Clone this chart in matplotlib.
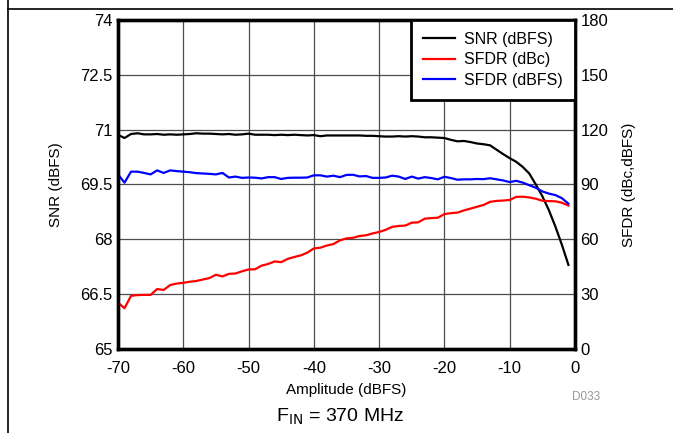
import numpy as np
import matplotlib.pyplot as plt

plt.rcParams['font.family'] = ['Liberation Sans', 'DejaVu Sans']
plt.rcParams['axes.unicode_minus'] = False

# amplitude in dBFS, 1 dB steps
amplitude = list(range(-70, 0))

# SNR (dBFS), left axis
snr = [70.86, 70.77, 70.88, 70.90, 70.87, 70.87, 70.88, 70.86, 70.87, 70.86,
       70.87, 70.88, 70.90, 70.89, 70.89, 70.88, 70.87, 70.88, 70.86, 70.87,
       70.89, 70.86, 70.86, 70.86, 70.85, 70.86, 70.85, 70.86, 70.85, 70.84,
       70.85, 70.82, 70.84, 70.84, 70.84, 70.84, 70.84, 70.84, 70.83, 70.83,
       70.82, 70.81, 70.81, 70.82, 70.81, 70.82, 70.81, 70.79, 70.79, 70.78,
       70.77, 70.72, 70.68, 70.69, 70.66, 70.62, 70.60, 70.57, 70.45, 70.33,
       70.22, 70.12, 69.98, 69.80, 69.50, 69.18, 68.80, 68.35, 67.85, 67.30]

# SFDR (dBc), right axis
sfdr_dbc = [25.4, 22.3, 29.1, 29.5, 29.6, 29.6, 32.8, 32.3, 35.0, 35.8,
            36.2, 36.8, 37.2, 38.0, 38.8, 40.6, 39.7, 41.1, 41.3, 42.5,
            43.5, 43.6, 45.6, 46.5, 47.9, 47.5, 49.3, 50.3, 51.2, 52.7,
            55.0, 55.4, 56.6, 57.4, 59.4, 60.5, 60.8, 61.8, 62.2, 63.2,
            64.0, 65.2, 66.8, 67.3, 67.5, 69.1, 69.3, 71.3, 71.6, 71.8,
            73.8, 74.3, 74.6, 75.8, 76.8, 77.8, 78.8, 80.5, 81.0, 81.2,
            81.5, 83.2, 83.3, 82.9, 82.2, 81.1, 80.9, 80.8, 80.0, 78.5]

# SFDR (dBFS), right axis
sfdr_dbfs = [95.5, 91.0, 97.0, 97.0, 96.3, 95.5, 97.7, 96.3, 97.7, 97.3,
             97.0, 96.7, 96.2, 96.0, 95.8, 95.5, 96.3, 93.8, 94.3, 93.6,
             93.8, 93.7, 93.3, 94.0, 94.0, 93.0, 93.6, 93.7, 93.7, 93.8,
             95.0, 95.0, 94.3, 94.8, 94.0, 95.2, 95.3, 94.4, 94.6, 93.6,
             93.6, 93.8, 94.8, 94.3, 93.0, 94.3, 93.2, 94.0, 93.5, 92.8,
             94.2, 93.5, 92.6, 92.8, 92.8, 93.0, 92.9, 93.4, 92.8, 92.2,
             91.3, 92.0, 91.0, 89.6, 88.2, 86.2, 85.0, 84.2, 82.5, 79.5]

fig = plt.figure(figsize=(6.73, 4.33), dpi=100)
ax1 = fig.add_axes([0.1753, 0.194, 0.679, 0.760])
ax2 = ax1.twinx()

l1, = ax1.plot(amplitude, snr, color='black', lw=1.6, label='SNR (dBFS)')
l2, = ax2.plot(amplitude, sfdr_dbc, color='red', lw=1.6, label='SFDR (dBc)')
l3, = ax2.plot(amplitude, sfdr_dbfs, color='blue', lw=1.6, label='SFDR (dBFS)')

ax1.set_xlim(-70, 0)
ax1.set_ylim(65, 74)
ax2.set_ylim(0, 180)
ax1.set_xticks(np.arange(-70, 1, 10))
ax1.set_yticks([65, 66.5, 68, 69.5, 71, 72.5, 74])
ax1.set_yticklabels(['65', '66.5', '68', '69.5', '71', '72.5', '74'])
ax2.set_yticks(np.arange(0, 181, 30))

ax1.grid(True, color='0.3', lw=0.9)
ax1.set_axisbelow(True)
for ax in (ax1, ax2):
    ax.tick_params(length=0, labelsize=12, pad=4)
    for s in ax.spines.values():
        s.set_linewidth(2.4)
ax1.tick_params(axis='x', pad=9)

ax1.set_xlabel('Amplitude (dBFS)', fontsize=11, labelpad=5)
ax1.set_ylabel('SNR (dBFS)', fontsize=11, labelpad=12)
ax2.set_ylabel('SFDR (dBc,dBFS)', fontsize=11, labelpad=10)

leg = ax2.legend(handles=[l1, l2, l3], loc='upper right', borderaxespad=0,
                 fontsize=11.5, fancybox=False, framealpha=1, edgecolor='black',
                 handlelength=2.0, handletextpad=0.6, labelspacing=0.35,
                 borderpad=0.75)
leg.get_frame().set_linewidth(2)

fig.text(0.85, 0.077, 'D033', fontsize=8.5, color='0.6')
fig.text(0.505, 0.027, r'F$_{\mathrm{IN}}$ = 370 MHz', fontsize=14, ha='center')

# page frame lines
fig.add_artist(plt.Line2D([8 / 673, 8 / 673], [0, 1], color='black', lw=1.2))
fig.add_artist(plt.Line2D([8 / 673, 1], [1 - 9 / 433, 1 - 9 / 433], color='black', lw=1.2))

fig.savefig('out.png', dpi=100)
